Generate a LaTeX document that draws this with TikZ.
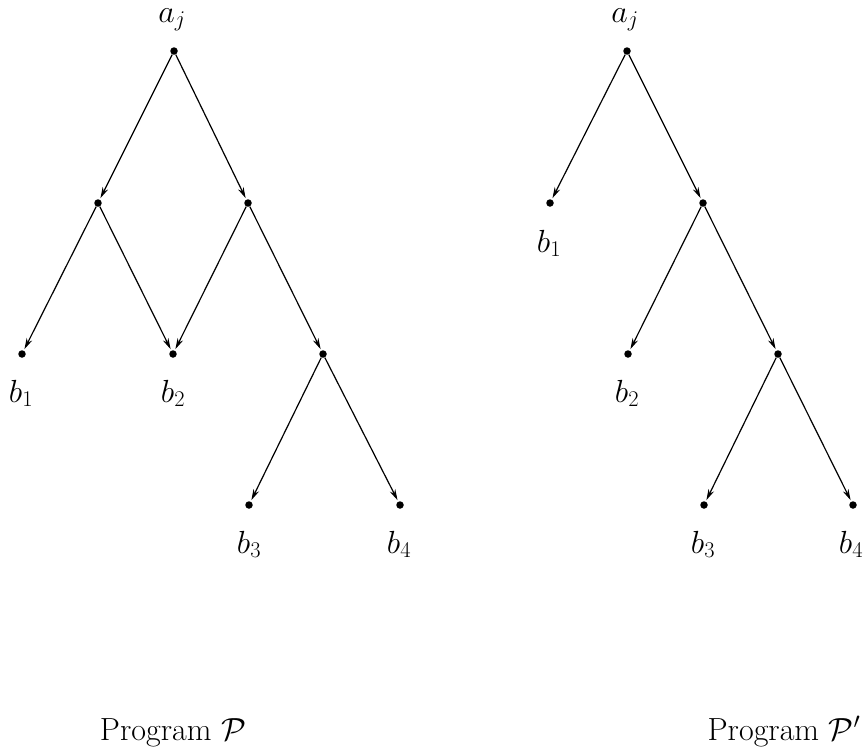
\RequirePackage{fix-cm}
\documentclass[tikz,border=0pt]{standalone}
\usetikzlibrary{arrows.meta}
\begin{document}
\begin{tikzpicture}[x=1pt,y=-1pt,
  dot/.style={circle,fill=black,inner sep=0pt,minimum size=7.5pt},
  arr/.style={-{Stealth[length=11pt,width=6pt]},line width=1.2pt,shorten >=1.5pt},
  lbl/.style={font=\fontsize{32}{38}\selectfont,inner sep=0pt,anchor=base}]
\useasboundingbox (0,0) rectangle (864,753);
% left tree
\node[dot] (la) at (174,51) {};
\node[dot] (ll) at (98,203) {};
\node[dot] (lr) at (248,203) {};
\node[dot] (lb1) at (22,354) {};
\node[dot] (lb2) at (173,354) {};
\node[dot] (lm) at (323,354) {};
\node[dot] (lb3) at (249,505) {};
\node[dot] (lb4) at (400,505) {};
\draw[arr] (la) -- (ll);
\draw[arr] (la) -- (lr);
\draw[arr] (ll) -- (lb1);
\draw[arr] (ll) -- (lb2);
\draw[arr] (lr) -- (lb2);
\draw[arr] (lr) -- (lm);
\draw[arr] (lm) -- (lb3);
\draw[arr] (lm) -- (lb4);
\node[lbl] (tla) at (172,22) {$a_j$};
\node[lbl] (tlb1) at (21,402) {$b_1$};
\node[lbl] (tlb2) at (173,402) {$b_2$};
\node[lbl] (tlb3) at (249,553) {$b_3$};
\node[lbl] (tlb4) at (399,553) {$b_4$};
\node[lbl] (tlp) at (173,740) {Program $\mathcal{P}$};
% right tree
\node[dot] (ra) at (627,51) {};
\node[dot] (rb1) at (550,203) {};
\node[dot] (rr) at (703,203) {};
\node[dot] (rb2) at (628,354) {};
\node[dot] (rm) at (778,354) {};
\node[dot] (rb3) at (704,505) {};
\node[dot] (rb4) at (853,505) {};
\draw[arr] (ra) -- (rb1);
\draw[arr] (ra) -- (rr);
\draw[arr] (rr) -- (rb2);
\draw[arr] (rr) -- (rm);
\draw[arr] (rm) -- (rb3);
\draw[arr] (rm) -- (rb4);
\node[lbl] (tra) at (625,22) {$a_j$};
\node[lbl] (trb1) at (549,252) {$b_1$};
\node[lbl] (trb2) at (627,402) {$b_2$};
\node[lbl] (trb3) at (703,553) {$b_3$};
\node[lbl] (trb4) at (851,553) {$b_4$};
\node[lbl] (trp) at (784,740) {Program $\mathcal{P}'$};
\end{tikzpicture}
\end{document}
